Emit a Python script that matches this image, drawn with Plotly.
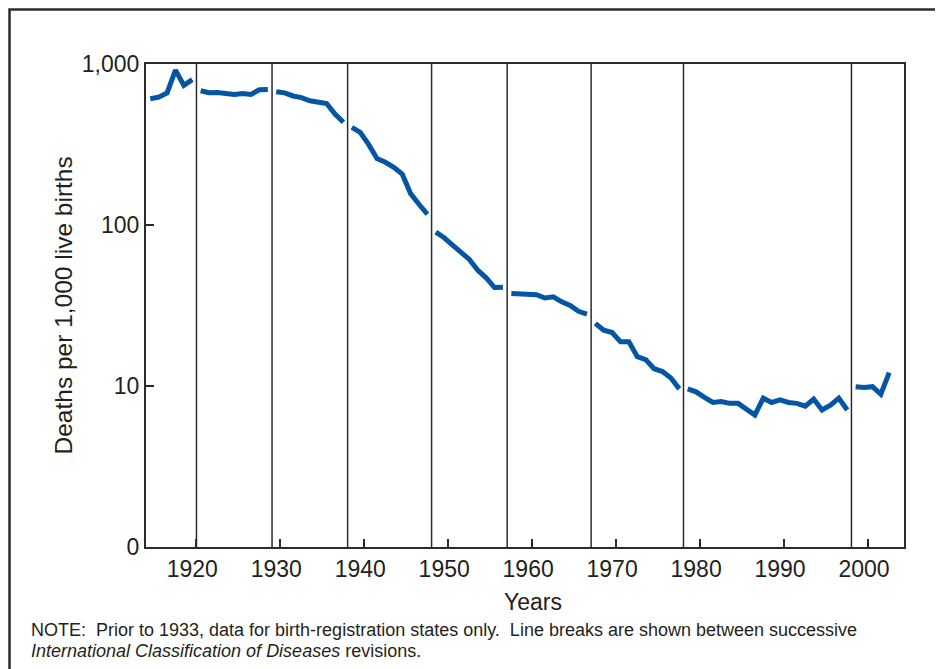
import plotly.graph_objects as go

# ---- data ----
years = list(range(1915, 2004))
rates = [
    607.9, 622.0, 661.6, 916.0, 737.0, 798.9,            # 1915-1920
    681.7, 663.2, 665.5, 655.9, 647.0, 656.5, 647.6, 692.4, 695.2,  # 1921-1929
    673.2, 661.5, 633.1, 618.9, 590.9, 582.1, 567.9, 488.6, 434.5,  # 1930-1938
    403.7, 376.0, 316.5, 258.7, 245.2, 227.9, 207.2, 156.7, 134.5, 116.6,  # 1939-1948
    90.3, 83.3, 75.0, 67.8, 61.1, 52.4, 47.0, 40.9, 41.0,  # 1949-1957
    37.6, 37.4, 37.1, 36.9, 35.2, 35.8, 33.3, 31.6, 29.1, 28.0,  # 1958-1967
    24.5, 22.2, 21.5, 18.8, 18.8, 15.2, 14.6, 12.8, 12.3, 11.2, 9.6,  # 1968-1978
    9.6, 9.2, 8.5, 7.9, 8.0, 7.8, 7.8, 7.2, 6.6, 8.4, 7.9, 8.2, 7.9, 7.8,
    7.5, 8.3, 7.1, 7.6, 8.4, 7.1,                         # 1979-1998
    9.9, 9.8, 9.9, 8.9, 12.1,                             # 1999-2003
]
# line breaks between successive ICD revisions
icd_breaks = [1920.5, 1929.5, 1938.5, 1948.5, 1957.5, 1967.5, 1978.5, 1998.5]
x_ticks = [1920, 1930, 1940, 1950, 1960, 1970, 1980, 1990, 2000]
y_ticks = [1, 10, 100, 1000]
y_ticktext = ["0", "10", "100", "1,000"]

FONT = "Liberation Sans, Arial, Helvetica, sans-serif"
BLUE = "#0455a4"
DARK = "#2b2b2b"

# split the series into segments at ICD breaks
xs, ys = [], []
bounds = [-1e9] + icd_breaks + [1e9]
for i in range(len(bounds) - 1):
    seg = [(x, y) for x, y in zip(years, rates) if bounds[i] < x < bounds[i + 1]]
    if xs:
        xs.append(None)
        ys.append(None)
    xs += [p[0] for p in seg]
    ys += [p[1] for p in seg]

fig = go.Figure()
fig.add_trace(go.Scatter(x=xs, y=ys, mode="lines", connectgaps=False,
                         line=dict(color=BLUE, width=5), showlegend=False,
                         hoverinfo="x+y"))
# invisible trace to activate xaxis2 (tick marks, slightly offset as in the source)
fig.add_trace(go.Scatter(x=[years[0]], y=[rates[0]], xaxis="x2", mode="markers",
                         marker=dict(opacity=0), showlegend=False, hoverinfo="skip"))

OFF = 8  # page body margin
W, H = 943 - OFF, 669 - OFF
L, R, T, B = 146 - OFF, 39, 64 - OFF, 122
pw, ph = W - L - R, H - T - B
def px(x):  # page x -> paper
    return (x - OFF - L) / pw
def py(y):  # page y -> paper
    return (H + OFF - B - y) / ph

xr = [1914.49, 2004.76]
fig.update_layout(
    width=W, height=H,
    margin=dict(l=L, r=R, t=T, b=B, pad=0),
    paper_bgcolor="white", plot_bgcolor="white",
    font=dict(family=FONT, size=23, color="#231f20"),
    xaxis=dict(range=xr, tickvals=x_ticks, ticktext=[str(v) for v in x_ticks],
               ticks="", showgrid=False, zeroline=False,
               showline=True, linecolor=DARK, linewidth=2, mirror=True,
               tickfont=dict(size=23), ticklabelstandoff=0),
    xaxis2=dict(range=xr, overlaying="x", anchor="y", side="bottom",
                tickvals=[v + 0.42 for v in x_ticks], showticklabels=False,
                ticks="inside", ticklen=8, tickwidth=1.5, tickcolor=DARK,
                showgrid=False, zeroline=False, showline=False),
    yaxis=dict(type="log", range=[0, 3], tickvals=y_ticks, ticktext=y_ticktext,
               ticks="inside", ticklen=8, tickwidth=1.5, tickcolor=DARK,
               showgrid=False, zeroline=False,
               showline=True, linecolor=DARK, linewidth=2, mirror=True,
               tickfont=dict(size=23), ticklabelstandoff=0),
)

shapes = []
for b in icd_breaks:
    shapes.append(dict(type="line", xref="x", yref="paper", x0=b, x1=b, y0=0, y1=1,
                       line=dict(color=DARK, width=1.5), layer="above"))
# outer frame (extends past the right and bottom edges)
shapes.append(dict(type="rect", xref="paper", yref="paper",
                   x0=px(9.5), x1=px(990), y0=py(720), y1=py(9.5),
                   line=dict(color=DARK, width=2.5), fillcolor="rgba(0,0,0,0)"))
fig.update_layout(shapes=shapes)

annotations = [
    dict(text="Years", x=px(533), y=py(602), xref="paper", yref="paper",
         showarrow=False, xanchor="center", yanchor="middle",
         font=dict(size=23)),
    dict(text="Deaths per 1,000 live births", x=px(62.5), y=py(306),
         xref="paper", yref="paper", showarrow=False, textangle=-90,
         xanchor="center", yanchor="middle", font=dict(size=24.5)),
    dict(text="NOTE:  Prior to 1933, data for birth-registration states only.  "
              "Line breaks are shown between successive",
         x=px(29), y=py(630), xref="paper", yref="paper", showarrow=False,
         xanchor="left", yanchor="middle", font=dict(size=18)),
    dict(text="<i>International Classification of Diseases</i> revisions.",
         x=px(29), y=py(651), xref="paper", yref="paper", showarrow=False,
         xanchor="left", yanchor="middle", font=dict(size=18)),
]
fig.update_layout(annotations=annotations)

fig.write_html("out.html")
